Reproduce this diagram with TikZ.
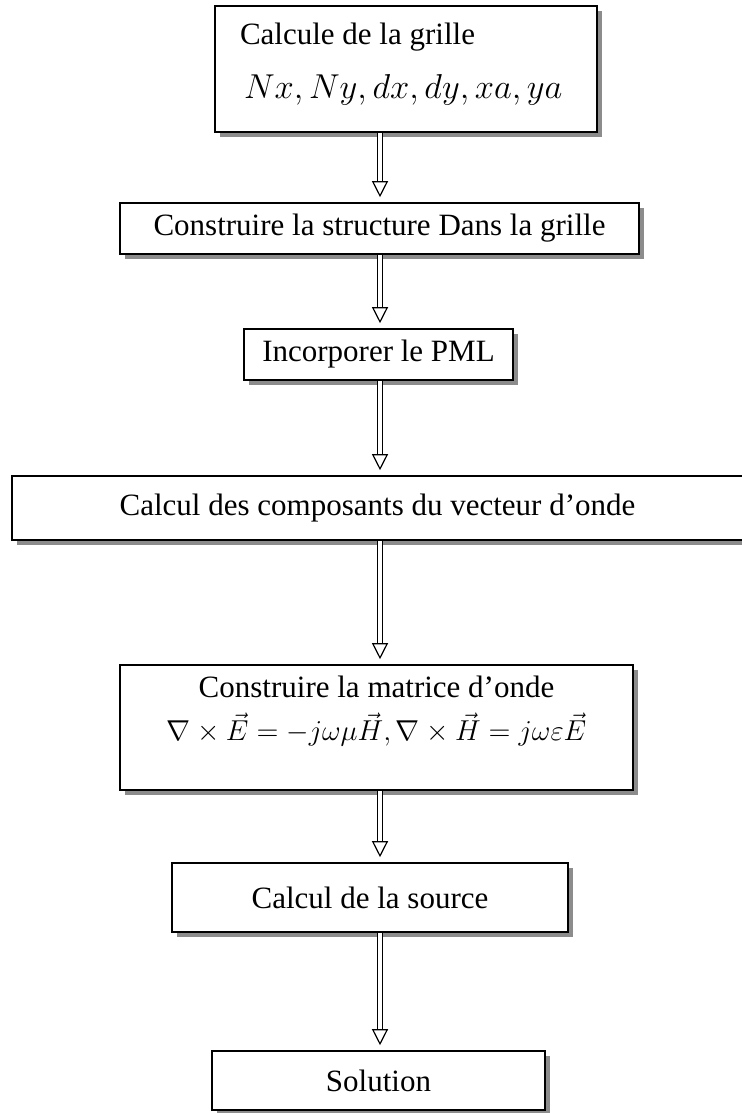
\documentclass[tikz,border=0pt]{standalone}
\usepackage{fontspec}
\setmainfont{Liberation Serif}
\usetikzlibrary{arrows.meta,shadows}
% text block of a box, lifted a bit above the box centre
\newcommand{\liftbox}[3]{\raisebox{#1}[0pt][0pt]{\begin{tabular}{@{}#2@{}}#3\end{tabular}}}

\begin{document}
\begin{tikzpicture}[
  x=0.5pt,
  y=-0.5pt,
  font=\fontsize{15.5}{19}\selectfont,
  box/.style={rectangle, draw=black, line width=0.8pt, fill=white, inner sep=0pt, align=center,
    drop shadow={shadow xshift=2.5pt, shadow yshift=-2.5pt, fill=black!45, opacity=1}},
  flow/.style={draw=black, line width=0.6pt, double=white, double distance=1.8pt,
    -{Triangle[length=8pt, width=8pt, line width=0.6pt, fill=white]}, shorten >=2.5pt}
]
  \useasboundingbox (0,0) rectangle (741,1113);
  \coordinate (ax) at (380,0);

  \node[box, minimum width=191pt, minimum height=63pt] (grille) at (406,69)
    {\makebox[166pt][l]{\liftbox{-1pt}{l}{Calcule de la grille\\[8pt]
      \hspace{2pt}{\fontsize{16}{19}\selectfont$Nx, Ny, dx, dy, xa, ya$}}}};
  \node[box, minimum width=259.5pt, minimum height=25.5pt] (struct) at (379.5,228.5) {Construire la structure Dans la grille};
  \node[box, minimum width=134.5pt, minimum height=25.5pt] (pml) at (378.5,354.5) {Incorporer le PML};
  \node[box, minimum width=365.5pt, minimum height=32pt] (vect) at (377.5,508) {Calcul des composants du vecteur d’onde};
  \node[box, minimum width=256.5pt, minimum height=62.5pt] (matr) at (376.5,727.5)
    {\liftbox{4.5pt}{c}{Construire la matrice d’onde\\[2pt]
       $\nabla\times\vec{E}=-j\omega\mu\vec{H},\nabla\times\vec{H}=j\omega\varepsilon\vec{E}$}};
  \node[box, minimum width=198pt, minimum height=34.5pt] (source) at (370,897.5) {Calcul de la source};
  \node[box, minimum width=166.5pt, minimum height=29.5pt] (sol) at (378.5,1080.5) {Solution};

  % arrows down the chain
  \draw[flow] (grille.south -| ax) -- (struct.north -| ax);
  \draw[flow] (struct.south -| ax) -- (pml.north -| ax);
  \draw[flow] (pml.south -| ax) -- (vect.north -| ax);
  \draw[flow] (vect.south -| ax) -- (matr.north -| ax);
  \draw[flow] (matr.south -| ax) -- (source.north -| ax);
  \draw[flow] (source.south -| ax) -- (sol.north -| ax);
\end{tikzpicture}
\end{document}
